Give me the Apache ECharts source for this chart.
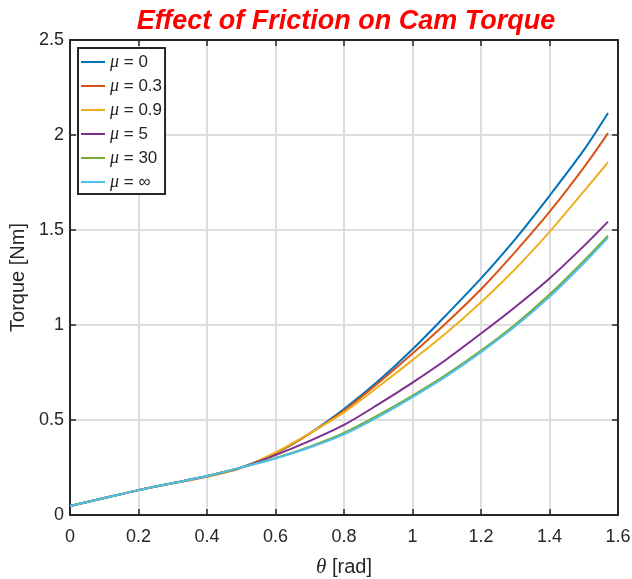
<!DOCTYPE html>
<html>
<head>
<meta charset="utf-8">
<script src="https://cdn.jsdelivr.net/npm/echarts@6/dist/echarts.min.js"></script>
<style>
  html, body { margin: 0; padding: 0; background: #fff; }
  #chart { width: 632px; height: 579px; }
</style>
</head>
<body>
<div id="chart"></div>
<script>
// theta [rad] sample points
const theta = [0, 0.1, 0.2, 0.3, 0.4, 0.5, 0.6, 0.7, 0.8, 0.9, 1.0, 1.1, 1.2, 1.3, 1.4, 1.5, 1.5708];

const muNames = ["μ = 0", "μ = 0.3", "μ = 0.9", "μ = 5", "μ = 30", "μ = ∞"];
const muColors = ["#0072BD", "#D95319", "#EDB120", "#7E2F8E", "#77AC30", "#4DBEEE"];

// torque [Nm]
const torqueMu0   = [0.047, 0.089, 0.131, 0.168, 0.205, 0.250, 0.325, 0.430, 0.558, 0.705, 0.872, 1.055, 1.245, 1.452, 1.680, 1.920, 2.116];
const torqueMu03  = [0.047, 0.089, 0.131, 0.167, 0.201, 0.248, 0.325, 0.428, 0.550, 0.695, 0.850, 1.013, 1.188, 1.385, 1.595, 1.828, 2.010];
const torqueMu09  = [0.047, 0.089, 0.131, 0.167, 0.202, 0.249, 0.330, 0.430, 0.540, 0.675, 0.815, 0.960, 1.120, 1.295, 1.490, 1.703, 1.856];
const torqueMu5   = [0.047, 0.089, 0.131, 0.168, 0.205, 0.250, 0.315, 0.390, 0.474, 0.582, 0.697, 0.820, 0.955, 1.095, 1.245, 1.415, 1.544];
const torqueMu30  = [0.047, 0.089, 0.131, 0.168, 0.205, 0.250, 0.300, 0.360, 0.432, 0.525, 0.628, 0.740, 0.865, 1.003, 1.160, 1.337, 1.470];
const torqueMuInf = [0.047, 0.089, 0.131, 0.168, 0.205, 0.250, 0.297, 0.355, 0.424, 0.516, 0.620, 0.732, 0.857, 0.993, 1.148, 1.325, 1.460];

const xTicks = { min: 0, max: 1.6, interval: 0.2 };
const yTicks = { min: 0, max: 2.5, interval: 0.5 };

const allTorque = [torqueMu0, torqueMu03, torqueMu09, torqueMu5, torqueMu30, torqueMuInf];

const chart = echarts.init(document.getElementById("chart"));

const axisDark = "#262626";
const labelFont = "Liberation Sans, Arial, sans-serif";

const baseX = {
  type: "value",
  min: xTicks.min,
  max: xTicks.max,
  interval: xTicks.interval,
  axisLine: { show: true, onZero: false, lineStyle: { color: axisDark, width: 2 } },
  axisTick: { show: true, inside: true, length: 6, lineStyle: { color: axisDark, width: 1.5 } },
};
const baseY = {
  type: "value",
  min: yTicks.min,
  max: yTicks.max,
  interval: yTicks.interval,
  axisLine: { show: true, onZero: false, lineStyle: { color: axisDark, width: 2 } },
  axisTick: { show: true, inside: true, length: 6, lineStyle: { color: axisDark, width: 1.5 } },
};

const option = {
  animation: false,
  backgroundColor: "#fff",
  title: {
    text: "Effect of Friction on Cam Torque",
    left: 341,
    textAlign: "center",
    top: 3,
    textStyle: {
      color: "#FF0000",
      fontSize: 27,
      fontWeight: "bold",
      fontStyle: "italic",
      fontFamily: labelFont,
    },
  },
  grid: { left: 70, right: 14, top: 40, bottom: 64, outerBoundsMode: "none" },
  legend: {
    orient: "vertical",
    left: 78,
    top: 48,
    padding: [5, 3, 3, 3],
    icon: "rect",
    itemWidth: 24,
    itemHeight: 2,
    itemGap: 6,
    borderColor: axisDark,
    borderWidth: 2,
    backgroundColor: "#fff",
    data: muNames,
    formatter: (name) => name.replace("μ", "{m|μ}"),
    textStyle: {
      fontSize: 17,
      lineHeight: 18,
      color: axisDark,
      fontFamily: labelFont,
      rich: {
        m: { fontSize: 18, lineHeight: 18, fontStyle: "italic", fontFamily: "Liberation Serif, serif", color: axisDark },
      },
    },
  },
  xAxis: [
    Object.assign({}, baseX, {
      position: "bottom",
      name: "{t|θ} [rad]",
      nameLocation: "middle",
      nameGap: 42,
      nameTextStyle: {
        fontSize: 20,
        color: axisDark,
        fontFamily: labelFont,
        rich: { t: { fontSize: 21, fontStyle: "italic", fontFamily: "Liberation Serif, serif", color: axisDark } },
      },
      axisLabel: { fontSize: 18, color: axisDark, fontFamily: labelFont, margin: 13 },
      splitLine: { show: true, lineStyle: { color: "#dedede", width: 2 } },
    }),
    Object.assign({}, baseX, {
      position: "top",
      axisLabel: { show: false },
      splitLine: { show: false },
    }),
  ],
  yAxis: [
    Object.assign({}, baseY, {
      position: "left",
      name: "Torque [Nm]",
      nameLocation: "middle",
      nameGap: 34,
      nameTextStyle: { fontSize: 20, color: axisDark, fontFamily: labelFont },
      axisLabel: { fontSize: 18, color: axisDark, fontFamily: labelFont, margin: 6 },
      splitLine: { show: true, lineStyle: { color: "#dedede", width: 2 } },
    }),
    Object.assign({}, baseY, {
      position: "right",
      axisLabel: { show: false },
      splitLine: { show: false },
    }),
  ],
  series: allTorque.map((vals, i) => ({
    name: muNames[i],
    type: "line",
    xAxisIndex: 0,
    yAxisIndex: 0,
    smooth: 0.3,
    symbol: "none",
    lineStyle: { color: muColors[i], width: 2 },
    itemStyle: { color: muColors[i] },
    data: theta.map((t, j) => [t, vals[j]]),
    z: 2 + i,
  })),
};

chart.setOption(option);
</script>
</body>
</html>
